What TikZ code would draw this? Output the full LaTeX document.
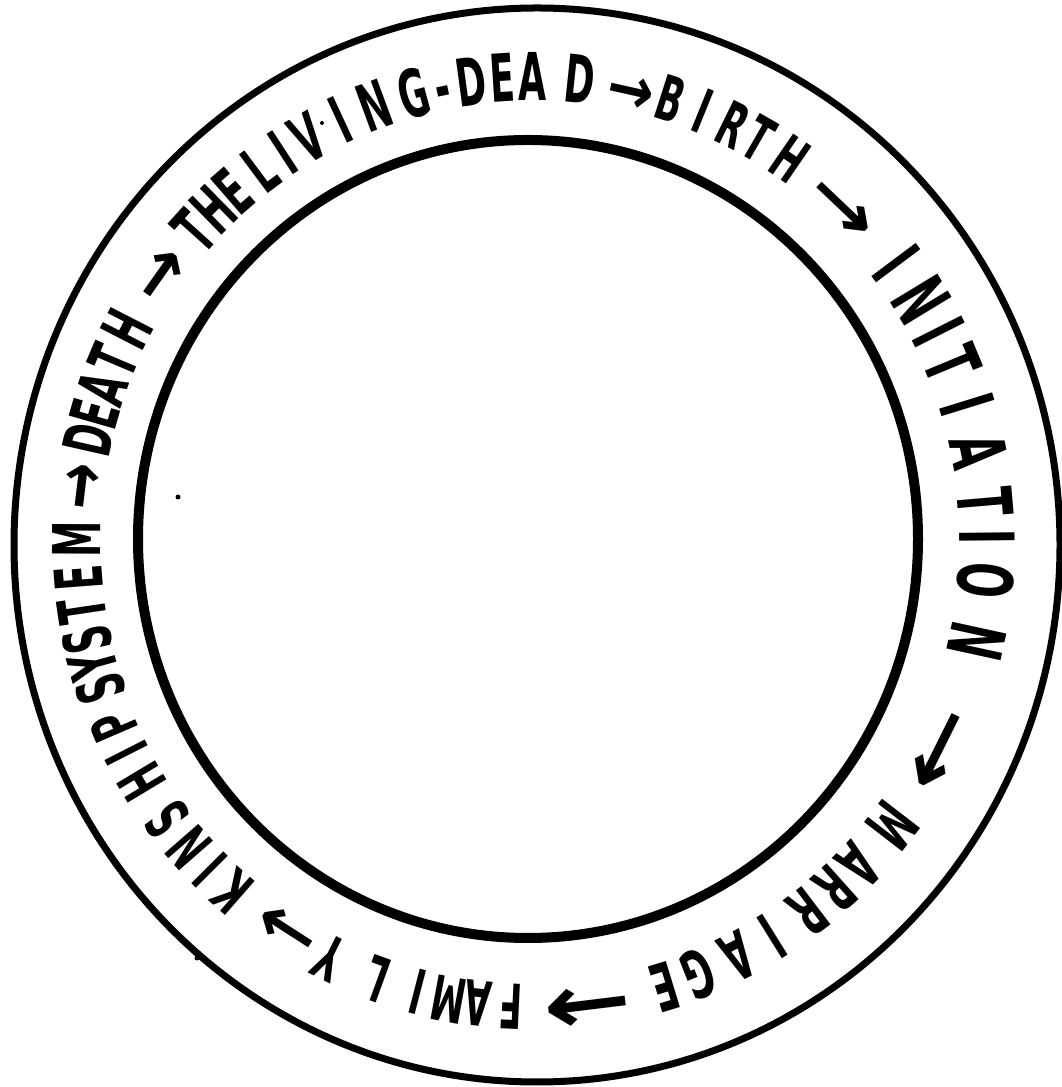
\documentclass[tikz,border=0pt]{standalone}
\usepackage{fontspec}
\usepackage{graphicx}
\newfontfamily\handfont[FakeStretch=0.55]{DejaVu Sans}
\newfontfamily\arrowfont{DejaVu Sans}
\tikzset{
  outerring/.style={line width=7pt},
  innerring/.style={line width=10pt},
  letter/.style={font=\handfont\bfseries\fontsize{66}{66}\selectfont, inner sep=0pt, text height=48pt, text depth=0pt, anchor=center},
  bigletter/.style={letter, font=\handfont\bfseries\fontsize{76}{76}\selectfont, text height=55pt},
  smallletter/.style={letter, font=\handfont\bfseries\fontsize{62}{62}\selectfont, text height=45pt},
  arrowglyph/.style={letter, font=\arrowfont\bfseries\fontsize{66}{66}\selectfont},
}
\newcommand\ringword[3][]{%
  \foreach \ang/\ch [count=\i] in {#3} {%
    \node[letter,#1,rotate=\ang-90] (#2\i) at ({532+455*cos(\ang)},{545+465*sin(\ang)}) {\ch};
  }}
\newcommand\ringarrow[4]{%
  \node[arrowglyph,rotate=#2-90] (#1) at ({532+455*cos(#2)},{545+465*sin(#2)}) {\scalebox{#3}[#4]{→}};}
\begin{document}
\begin{tikzpicture}[x=1pt,y=1pt]
\useasboundingbox (0,0) rectangle (1062,1087);
% rings
\draw[outerring] (537,542) ellipse [x radius=523, y radius=537];
\draw[innerring] (528,548) ellipse [x radius=390, y radius=399];
% words
\ringword[smallletter]{kin}{228.8/K,224.9/I,221.1/N,216.6/S,211.0/H,207.0/I,203.3/P}
\ringword{sys}{198.4/S,195.4/Y,192.1/S,188.5/T,184.4/E,179.7/M}
\ringarrow{a1}{173.1}{0.85}{1.1}
\ringword{dea}{167.3/D,164.0/E,160.7/A,157.0/T,152.8/H}
\ringarrow{a2}{144.8}{1.0}{1.1}
\ringword{the}{138.0/T,134.4/H,131.0/E}
\ringword{liv}{126.7/L,123.1/I,119.5/V,114.9/I,110.2/N,105.1/G,101.4/-}
\ringword{dead}{97.7/D,93.7/E,89.9/A,84.0/D}
\ringarrow{a3}{77.4}{0.85}{1.0}
\ringword[smallletter]{bir}{72.3/B,67.9/I,63.8/R,60.1/T,55.5/H}
\ringarrow{a4}{46.5}{1.35}{1.0}
\ringword[bigletter]{ini}{36.8/I,31.3/N,26.8/I,22.5/T,17.2/I,11.3/A,4.9/T,0.6/I,-4.8/O,-12.3/N}
\ringarrow{a5}{-26.5}{1.6}{1.15}
\ringword{mar}{-37.6/M,-44.1/A,-48.2/R,-52.7/R,-58.1/I,-63.1/A,-68.5/G,-73.0/E}
\ringarrow{a6}{-83.0}{1.6}{1.25}
\ringword[smallletter]{fam}{-92.7/F,-96.8/A,-100.5/M,-104.5/I,-110.0/L,-116.5/Y}
\ringarrow{a7}{-122.8}{1.15}{1.0}
% stray specks of the scan
\fill (178,590) circle (2.5pt);
\fill (197,129) circle (2.5pt);
\fill (322,964) circle (2pt);
\end{tikzpicture}
\end{document}
